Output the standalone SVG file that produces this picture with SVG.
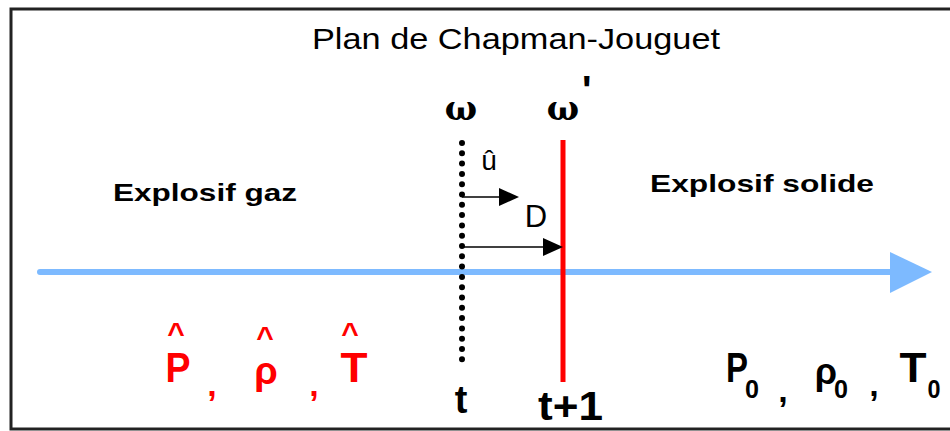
<svg xmlns="http://www.w3.org/2000/svg" width="950" height="431" viewBox="0 0 950 431">
<defs>
<style>
text{font-family:"Liberation Sans",Arial,sans-serif;}
.b{font-weight:bold;}
.red{fill:#ff0000;}
.om{font-family:"DejaVu Serif","Liberation Serif",serif;font-weight:bold;}
.arr{stroke:#000;stroke-width:1.5;}
</style>
</defs>
<rect x="0" y="0" width="950" height="431" fill="#fff"/>
<rect x="11" y="9" width="960" height="420" fill="none" stroke="#222" stroke-width="3"/>
<text x="516" y="49" font-size="30" text-anchor="middle" textLength="408" lengthAdjust="spacingAndGlyphs">Plan de Chapman-Jouguet</text>
<g id="axis">
<line x1="40" y1="272" x2="893" y2="272" stroke="#7dbaff" stroke-width="6" stroke-linecap="round"/>
<path d="M890,252L932,272L890,293z" fill="#7dbaff"/>
</g>
<g id="gaz"><text class="b" x="113" y="201" font-size="24" textLength="184" lengthAdjust="spacingAndGlyphs">Explosif gaz</text></g>
<g id="solide"><text class="b" x="650" y="192" font-size="24" textLength="224" lengthAdjust="spacingAndGlyphs">Explosif solide</text></g>
<g id="omega">
<text class="om" x="461" y="120" font-size="34" text-anchor="middle">ω</text>
<line x1="462" y1="143" x2="462" y2="368" stroke="#000" stroke-width="6" stroke-linecap="round" stroke-dasharray="0 10.3"/>
<text class="b" x="461" y="413" font-size="38" text-anchor="middle">t</text>
</g>
<g id="omega2">
<text class="om" x="563" y="120" font-size="34" text-anchor="middle">ω</text>
<text class="b" x="582" y="104" font-size="40">'</text>
<line x1="563" y1="140" x2="563" y2="382" stroke="#ff0000" stroke-width="5"/>
<text class="b" x="538" y="420" font-size="40" textLength="65" lengthAdjust="spacingAndGlyphs">t+1</text>
</g>
<g id="connectors">
<line class="arr" x1="462" y1="197" x2="502" y2="197"/>
<path d="M499,188L519,197L499,206z" fill="#000"/>
<line class="arr" x1="462" y1="247" x2="547" y2="247"/>
<path d="M543,238L563,247L543,256z" fill="#000"/>
</g>
<text x="489" y="170" font-size="28" text-anchor="middle">û</text>
<text x="536" y="227" font-size="31" text-anchor="middle">D</text>
<g id="hat">
<text class="b red" x="178" y="382" font-size="42" text-anchor="middle" textLength="25" lengthAdjust="spacingAndGlyphs">P</text>
<text class="b red" x="176" y="343" font-size="30" text-anchor="middle">^</text>
<text class="b red" x="212" y="396" font-size="34" text-anchor="middle">,</text>
<text class="b red" x="266" y="384" font-size="38" text-anchor="middle" font-family="'DejaVu Sans',sans-serif">ρ</text>
<text class="b red" x="265" y="347" font-size="30" text-anchor="middle">^</text>
<text class="b red" x="314" y="396" font-size="34" text-anchor="middle">,</text>
<text class="b red" x="354" y="382" font-size="42" text-anchor="middle" textLength="27" lengthAdjust="spacingAndGlyphs">T</text>
<text class="b red" x="350" y="343" font-size="30" text-anchor="middle">^</text>
</g>
<g id="zero">
<text class="b" x="737" y="382" font-size="42" text-anchor="middle" textLength="22" lengthAdjust="spacingAndGlyphs">P</text>
<text class="b" x="752" y="398" font-size="25" text-anchor="middle" textLength="14" lengthAdjust="spacingAndGlyphs">0</text>
<text class="b" x="783" y="402" font-size="34" text-anchor="middle">,</text>
<text class="b" x="826" y="384" font-size="36" text-anchor="middle" font-family="'DejaVu Sans',sans-serif">ρ</text>
<text class="b" x="841" y="398" font-size="25" text-anchor="middle" textLength="14" lengthAdjust="spacingAndGlyphs">0</text>
<text class="b" x="874" y="396" font-size="34" text-anchor="middle">,</text>
<text class="b" x="913" y="382" font-size="42" text-anchor="middle" textLength="27" lengthAdjust="spacingAndGlyphs">T</text>
<text class="b" x="934" y="398" font-size="25" text-anchor="middle" textLength="13" lengthAdjust="spacingAndGlyphs">0</text>
</g>
</svg>
